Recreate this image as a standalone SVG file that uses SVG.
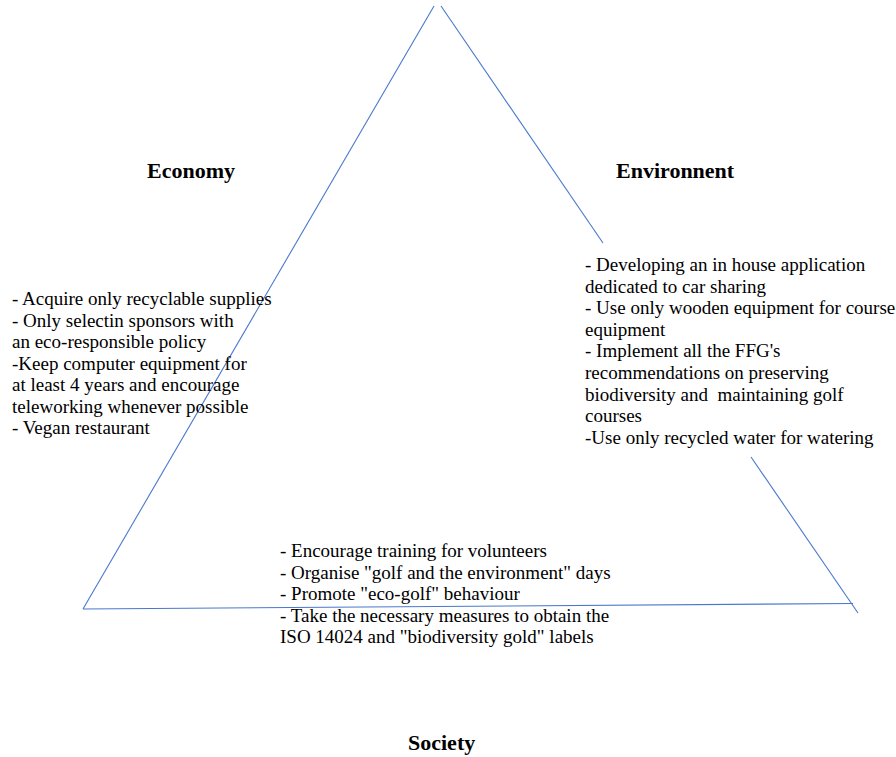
<svg xmlns="http://www.w3.org/2000/svg" width="896" height="757" viewBox="0 0 896 757">
<style>
.t{font-family:"Liberation Serif","Times New Roman",serif;font-size:19px;fill:#000}
.h{font-family:"Liberation Serif","Times New Roman",serif;font-size:22px;font-weight:bold;fill:#000}
.ln{stroke:#4a78cc;stroke-width:1.1;fill:none}
</style>
<rect width="896" height="757" fill="#fff"/>
<g id="connectors">
<line class="ln" x1="434" y1="6" x2="83" y2="609"/>
<line class="ln" x1="441" y1="6" x2="603" y2="243"/>
<line class="ln" x1="751" y1="457" x2="858" y2="613"/>
<line class="ln" x1="83" y1="609" x2="853" y2="603.5"/>
</g>
<g id="economy">
<text class="h" x="147" y="178">Economy</text>
<text class="t" x="12" y="305">- Acquire only recyclable supplies</text>
<text class="t" x="12" y="326.5">- Only selectin sponsors with</text>
<text class="t" x="12" y="348">an eco-responsible policy</text>
<text class="t" x="12" y="369.5">-Keep computer equipment for</text>
<text class="t" x="12" y="391">at least 4 years and encourage</text>
<text class="t" x="12" y="412.5">teleworking whenever possible</text>
<text class="t" x="12" y="434">- Vegan restaurant</text>
</g>
<g id="environnent">
<text class="h" x="616" y="178">Environnent</text>
<text class="t" x="585" y="271">- Developing an in house application</text>
<text class="t" x="585" y="292.6">dedicated to car sharing</text>
<text class="t" x="585" y="314.2">- Use only wooden equipment for course</text>
<text class="t" x="585" y="335.8">equipment</text>
<text class="t" x="585" y="357.4">- Implement all the FFG's</text>
<text class="t" x="585" y="379">recommendations on preserving</text>
<text class="t" x="585" y="400.6" xml:space="preserve">biodiversity and  maintaining golf</text>
<text class="t" x="585" y="422.2">courses</text>
<text class="t" x="585" y="443.8">-Use only recycled water for watering</text>
</g>
<g id="society">
<text class="h" x="408" y="750">Society</text>
<text class="t" x="280" y="557">- Encourage training for volunteers</text>
<text class="t" x="280" y="578.5">- Organise "golf and the environment" days</text>
<text class="t" x="280" y="600">- Promote "eco-golf" behaviour</text>
<text class="t" x="280" y="621.5">- Take the necessary measures to obtain the</text>
<text class="t" x="280" y="643">ISO 14024 and "biodiversity gold" labels</text>
</g>
</svg>
